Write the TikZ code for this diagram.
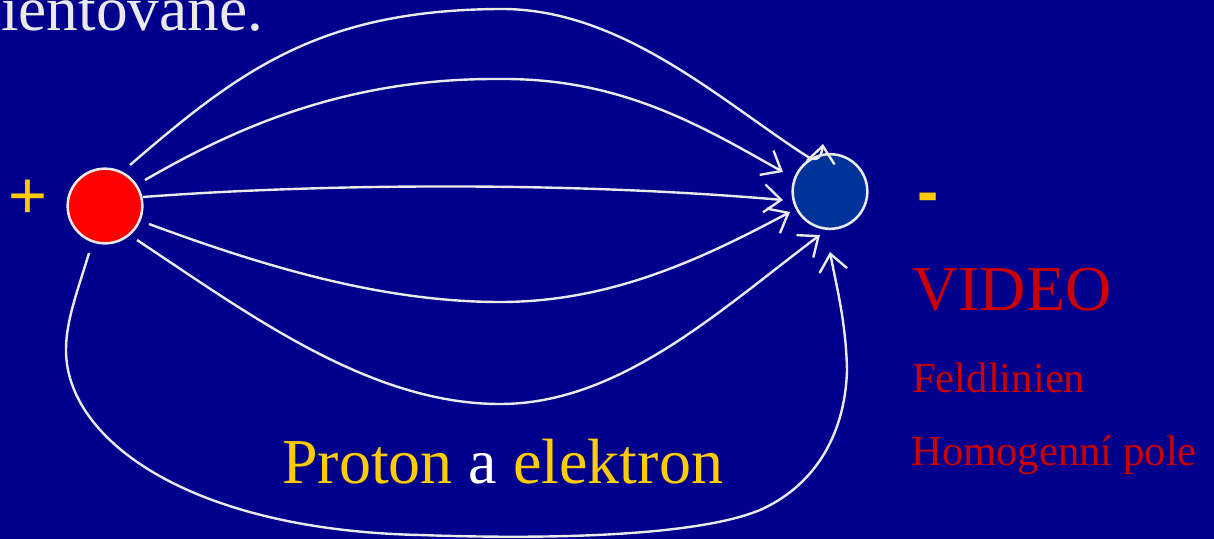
\documentclass[tikz,border=0pt]{standalone}
\usepackage{fontspec}
\setmainfont{Liberation Serif}
\newfontfamily\plusfont{Liberation Sans}
\usetikzlibrary{arrows.meta}
\definecolor{slidebg}{RGB}{0,0,140}
\definecolor{linegray}{RGB}{234,234,234}
\definecolor{protonred}{RGB}{255,0,0}
\definecolor{electronblue}{RGB}{0,51,153}
\definecolor{labelyellow}{RGB}{255,204,0}
\definecolor{labelred}{RGB}{204,0,0}
\tikzset{
  charge/.style={circle, draw=linegray, line width=1.9pt, minimum size=56pt, inner sep=0pt},
  fieldline/.style={draw=linegray, line width=1.8pt,
                    -{Straight Barb[length=12.75pt, width=21pt]}},
  lbl/.style={anchor=base west, inner sep=0pt},
}

\begin{document}
\begin{tikzpicture}[x=0.75pt, y=-0.75pt]
  \clip (0,0) rectangle (1214,539);
  \fill[slidebg] (0,0) rectangle (1214,539);
  % charges
  \node[charge, fill=protonred]    (proton)   at (105,206)   {};
  \node[charge, fill=electronblue] (electron) at (830,191.5) {};
  % field lines
  \draw[fieldline] ([shift={(25,-41)}]proton.center) .. controls (240,70) and (320,10) .. (500,9)
    .. controls (620,8) and (720,100) .. (805,155)
    .. controls (815,162) and (821,160) .. ([shift={(-7,-47.5)}]electron.center);
  \draw[fieldline] ([shift={(40,-26)}]proton.center) .. controls (240,125) and (350,78) .. (500,79)
    .. controls (620,78) and (700,125) .. ([shift={(-47,-19.5)}]electron.center);
  \draw[fieldline] ([shift={(38,-9)}]proton.center) .. controls (300,185) and (550,180)
    .. ([shift={(-47,8.5)}]electron.center);
  \draw[fieldline] ([shift={(44,18)}]proton.center) .. controls (260,265) and (380,302) .. (500,302)
    .. controls (610,302) and (700,260) .. ([shift={(-40,20.5)}]electron.center);
  \draw[fieldline] ([shift={(32,34)}]proton.center) .. controls (250,315) and (370,404) .. (500,404)
    .. controls (620,404) and (720,310) .. ([shift={(-10,43.5)}]electron.center);
  \draw[fieldline] ([shift={(-16,47)}]proton.center) .. controls (78,290) and (66,320) .. (66,350)
    .. controls (66,440) and (190,530) .. (420,535)
    .. controls (560,540) and (700,535) .. (760,510)
    .. controls (810,488) and (845,440) .. (847,370)
    .. controls (846,320) and (835,280) .. ([shift={(0,60.5)}]electron.center);
  % labels
  \node[lbl, text=linegray, font=\fontsize{47.5}{56}\selectfont] (topline) at (1,31) {ientované.};
  \node[anchor=base, inner sep=0pt, text=labelyellow, font=\plusfont\fontsize{50}{60}\selectfont] (plus) at (28,218) {+};
  \node[anchor=base, inner sep=0pt, text=labelyellow, font=\plusfont\bfseries\fontsize{48}{58}\selectfont] (minus) at (928,213) {-};
  \node[lbl, text=labelred, font=\fontsize{48}{58}\selectfont] (video) at (912,310) {VIDEO};
  \node[lbl, text=labelred, font=\fontsize{32}{38}\selectfont] (feld) at (912,392) {Feldlinien};
  \node[lbl, text=labelred, font=\fontsize{32}{38}\selectfont] (homog) at (911,465) {Homogenní pole};
  \node[lbl, text=labelyellow, font=\fontsize{48}{58}\selectfont] (caption) at (282,483)
    {Proton \textcolor{white}{a} elektron};
\end{tikzpicture}
\end{document}
